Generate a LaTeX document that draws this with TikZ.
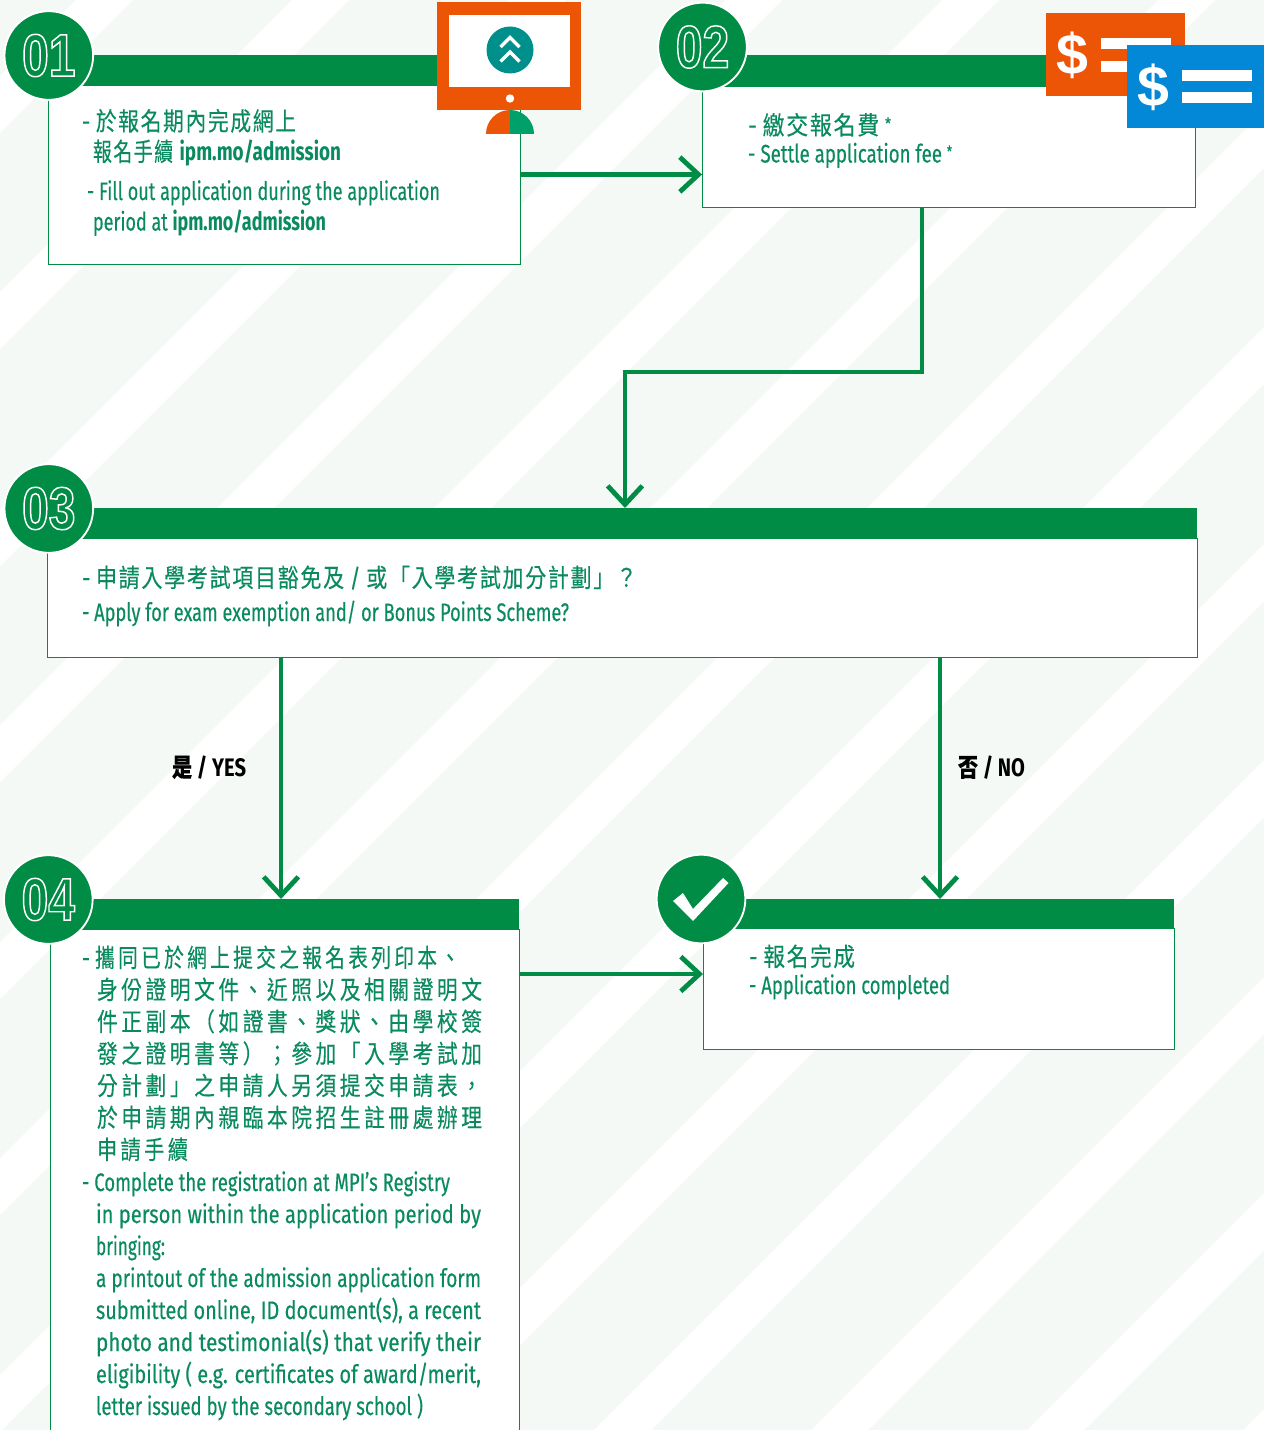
\documentclass[tikz,border=0pt]{standalone}
\usepackage{fontspec}
\usepackage{graphicx}
\usetikzlibrary{arrows.meta}
\setmainfont{Fira Sans}[UprightFeatures={FakeBold=0.35}]
\newfontfamily\cjk{Noto Sans CJK TC}[LetterSpace=8,FakeBold=0.3]
\newfontfamily\cjkw{Noto Sans CJK TC}[LetterSpace=17,FakeBold=0.3]
\newfontfamily\numfont{Liberation Sans}[FakeStretch=0.8]
\newfontfamily\dolfont{Liberation Sans}
\definecolor{bgtint}{HTML}{F5F9F6}
\definecolor{mpigreen}{HTML}{008C44}
\definecolor{tgreen}{HTML}{0A8A60}
\definecolor{iorange}{HTML}{EB5505}
\definecolor{iblue}{HTML}{0388D8}
\definecolor{iteal}{HTML}{00908C}
\definecolor{ihalf}{HTML}{00A06A}
\newcommand\fitw[2]{\resizebox{\dimexpr #1pt*3/4\relax}{\height}{#2}}
\newcommand\tline[5]{\node[txt] (#1) at (#2,#3) {\fitw{#4}{#5}};}
\newcommand\outl[1]{\special{pdf:code 1 Tr 1.1 w 1 1 1 RG}#1\special{pdf:code 0 Tr}}
\newcommand\smallstar{\scalebox{.62}{\raisebox{.35em}{*}}}
\tikzset{
  x=0.75pt,y=-0.75pt,
  txt/.style={anchor=base west,inner sep=0pt,outer sep=0pt,text=tgreen,font=\fontsize{19}{21}\selectfont},
  lab/.style={anchor=base west,inner sep=0pt,outer sep=0pt,text=black,font=\fontsize{19}{21}\selectfont\bfseries},
  boxframe/.style={draw=mpigreen,line width=0.65pt,fill=white,inner sep=0pt,outer sep=0pt},
  barnode/.style={fill=mpigreen,inner sep=0pt,outer sep=0pt},
  numcirc/.style={circle,fill=mpigreen,draw=white,line width=1.4pt,minimum size=66.5pt,inner sep=0pt,outer sep=0pt,text=white,font=\numfont\bfseries\fontsize{45}{45}\selectfont},
  conn/.style={draw=mpigreen,line width=3.3pt,line join=miter,-{Straight Barb[length=14pt,width=26pt,line width=3.6pt]}},
  dollar/.style={inner sep=0pt,outer sep=0pt,text=white,font=\dolfont\bfseries\fontsize{43}{43}\selectfont},
}
\begin{document}
\begin{tikzpicture}
\useasboundingbox (0,0) rectangle (1264,1430);
\clip (0,0) rectangle (1264,1430);
% background
\fill[bgtint] (0,0) rectangle (1264,1430);
\foreach \s in {76,292,509,725,942,1158,1375,1591,1808,2024,2241,2457,2673}
  \fill[white] (\s,0) -- (\s+57,0) -- (\s+57-1430,1430) -- (\s-1430,1430) -- cycle;
% boxes
\node[boxframe,minimum width=354pt,minimum height=134.25pt] (b1) at (284,174.5) {};
\node[boxframe,minimum width=370.1pt,minimum height=90.75pt] (b2) at (948.75,146.5) {};
\node[boxframe,minimum width=862.5pt,minimum height=89.25pt] (b3) at (622,597.5) {};
\node[boxframe,minimum width=351.75pt,minimum height=450.75pt] (b4) at (284.5,1229.5) {};
\node[boxframe,minimum width=353.25pt,minimum height=90.75pt] (b5) at (938.5,988.5) {};
% bars
\node[barnode,minimum width=277.5pt,minimum height=22.5pt] (bar1) at (255,70) {};
\node[barnode,minimum width=251.25pt,minimum height=23.25pt] (bar2) at (882.5,70.5) {};
\node[barnode,minimum width=845.25pt,minimum height=22.5pt] (bar3) at (633.5,523) {};
\node[barnode,minimum width=336.75pt,minimum height=22.5pt] (bar4) at (294.5,914) {};
\node[barnode,minimum width=340.5pt,minimum height=21.75pt] (bar5) at (947,913.5) {};
% connectors
\coordinate (xturn) at (922,372);
\coordinate (xin) at (625,0);
\coordinate (xyes) at (281,0);
\coordinate (xno) at (940,0);
\coordinate (y45) at (0,974);
\draw[conn] (b1.east) -- (b1.east -| b2.west);
\draw[conn] (b2.south -| xturn) -- (xturn) -- (xturn -| xin) -- (bar3.north -| xin);
\draw[conn] (b3.south -| xyes) -- (bar4.north -| xyes);
\draw[conn] (b3.south -| xno) -- (bar5.north -| xno);
\draw[conn] (b4.east |- y45) -- (b5.west |- y45);
% number circles
\node[numcirc] (c1) at (48.8,55.5) {\outl{01}};
\node[numcirc] (c2) at (702.5,47) {\outl{02}};
\node[numcirc] (c3) at (48.8,508.5) {\outl{03}};
\node[numcirc] (c4) at (48.3,899.5) {\outl{04}};
\node[circle,fill=mpigreen,draw=white,line width=1.4pt,minimum size=66.5pt,inner sep=0pt,outer sep=0pt] (c5) at (701,899) {};
\fill[white] (673,901) -- (683,893) -- (693,909) -- (723,878) -- (728.5,883) -- (693,921) -- cycle;
% monitor icon
\fill[iorange] (437,2) rectangle (581,110);
\fill[white] (449,15) rectangle (569.5,87);
\fill[white] (510,98.5) circle[radius=4.2];
\fill[iteal] (510,50) circle[radius=23.5];
\draw[white,line width=2.6pt] (500.5,47) -- (510,37.5) -- (519.5,47);
\draw[white,line width=2.6pt] (500.5,61.5) -- (510,52) -- (519.5,61.5);
\fill[iorange] (510,134) -- (486,134) arc[start angle=180,end angle=270,radius=24] -- cycle;
\fill[ihalf] (510,134) -- (534,134) arc[start angle=0,end angle=-90,radius=24] -- cycle;
% fee icons
\fill[iorange] (1046,13) rectangle (1185,96);
\node[dollar] (d1) at (1072.5,55) {\$};
\fill[white] (1101,38) rectangle (1171,49);
\fill[white] (1101,61) rectangle (1171,72);
\fill[iblue] (1127,45) rectangle (1264,128);
\node[dollar] (d2) at (1153.5,87) {\$};
\fill[white] (1182,70) rectangle (1252,81);
\fill[white] (1182,92) rectangle (1252,103);
% texts box 1
\tline{t11}{82}{130.5}{214}{- {\cjk 於報名期內完成網上}}
\tline{t12}{93}{161}{248}{{\cjk 報名手續} \textbf{ipm.mo/admission}}
\tline{t13}{87}{200}{353}{- Fill out application during the application}
\tline{t14}{93}{230.5}{233}{period at \textbf{ipm.mo/admission}}
% box 2
\tline{t21}{748}{134.5}{143}{- {\cjk 繳交報名費} \smallstar}
\tline{t22}{748}{162.5}{204}{- Settle application fee \smallstar}
% box 3
\tline{t31}{82}{587}{555}{- {\cjk 申請入學考試項目豁免及} / {\cjk 或「入學考試加分計劃」？}}
\tline{t32}{82}{621}{487}{- Apply for exam exemption and/ or Bonus Points Scheme?}
% labels
\node[lab] (lyes) at (172,776.5) {\fitw{74}{{\cjk 是} / YES}};
\node[lab] (lno) at (958,776.5) {\fitw{67}{{\cjk 否} / NO}};
% box 4
\tline{t41}{82}{967}{378}{- {\cjkw 攜同已於網上提交之報名表列印本、}}
\tline{t42}{97}{999}{385}{{\cjkw 身份證明文件、近照以及相關證明文}}
\tline{t43}{97}{1031}{385}{{\cjkw 件正副本（如證書、獎狀、由學校簽}}
\tline{t44}{97}{1063}{385}{{\cjkw 發之證明書等）；參加「入學考試加}}
\tline{t45}{97}{1095}{385}{{\cjkw 分計劃」之申請人另須提交申請表，}}
\tline{t46}{97}{1127}{385}{{\cjkw 於申請期內親臨本院招生註冊處辦理}}
\tline{t47}{97}{1159}{91}{{\cjkw 申請手續}}
\tline{t48}{82}{1191}{368}{- Complete the registration at MPI's Registry}
\tline{t49}{96}{1223}{385}{in person within the application period by}
\tline{t410}{96}{1255}{69}{bringing:}
\tline{t411}{96}{1287}{385}{a printout of the admission application form}
\tline{t412}{96}{1319}{385}{submitted online, ID document(s), a recent}
\tline{t413}{96}{1351}{385}{photo and testimonial(s) that verify their}
\tline{t414}{96}{1383}{385}{eligibility ( e.g. certificates of award/merit,}
\tline{t415}{96}{1415}{327}{letter issued by the secondary school )}
% box 5
\tline{t51}{749}{966}{106}{- {\cjk 報名完成}}
\tline{t52}{749}{994}{201}{- Application completed}
\end{tikzpicture}
\end{document}
